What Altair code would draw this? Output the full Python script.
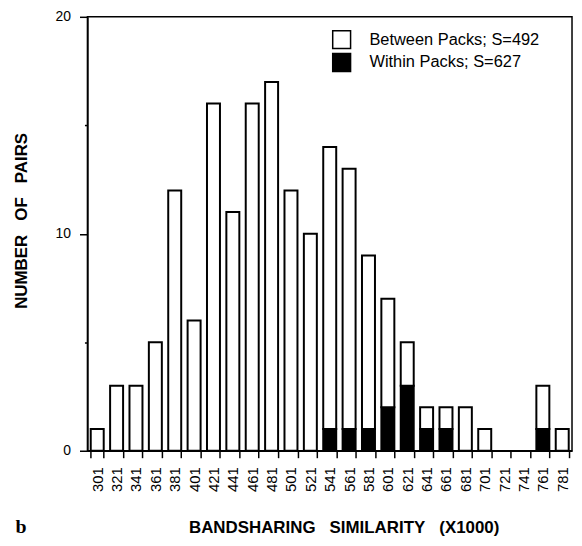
import altair as alt
import pandas as pd

categories = ["301", "321", "341", "361", "381", "401", "421", "441", "461", "481",
              "501", "521", "541", "561", "581", "601", "621", "641", "661", "681",
              "701", "721", "741", "761", "781"]
total_pairs = [1, 3, 3, 5, 12, 6, 16, 11, 16, 17,
               12, 10, 14, 13, 9, 7, 5, 2, 2, 2,
               1, 0, 0, 3, 1]
within_pairs = [0, 0, 0, 0, 0, 0, 0, 0, 0, 0,
                0, 0, 1, 1, 1, 2, 3, 1, 1, 0,
                0, 0, 0, 1, 0]
series_names = ["Between Packs; S=492", "Within Packs; S=627"]
series_colors = ["white", "black"]
y_ticks = [0, 5, 10, 15, 20]

rows = []
for c, t, w in zip(categories, total_pairs, within_pairs):
    if w > 0:
        rows.append({"sim": c, "group": series_names[1], "pairs": w, "ord": 0})
    if t - w > 0:
        rows.append({"sim": c, "group": series_names[0], "pairs": t - w, "ord": 1})
df = pd.DataFrame(rows)

FONT = "Liberation Sans"
SP = "\u00a0\u00a0\u00a0"

bars = alt.Chart(df).mark_bar(stroke="black", strokeWidth=2).encode(
    x=alt.X(
        "sim:N",
        sort=categories,
        scale=alt.Scale(domain=categories, paddingInner=0.33, paddingOuter=0.17),
        axis=alt.Axis(
            title=f"BANDSHARING{SP}SIMILARITY{SP}(X1000)",
            titleFont=FONT, titleFontSize=17, titleFontWeight="bold", titleColor="black",
            titleX=258, titleY=77, titleAlign="center", titleBaseline="middle",
            titleLimit=480,
            labelAngle=270, labelFont=FONT, labelFontSize=15, labelColor="black",
            labelPadding=9, labelAlign="right", labelBaseline="middle",
            tickBand="extent", tickSize=7, tickWidth=1.5, tickColor="black",
            domainColor="black", domainWidth=1.5,
        ),
    ),
    y=alt.Y(
        "pairs:Q",
        stack="zero",
        scale=alt.Scale(domain=[0, 20], nice=False),
        axis=alt.Axis(
            title=f"NUMBER{SP}OF{SP}PAIRS",
            titleFont=FONT, titleFontSize=17, titleFontWeight="bold", titleColor="black",
            titleX=-66, titleY=205, titleAngle=270, titleAlign="center", titleBaseline="middle",
            values=y_ticks,
            labelExpr="datum.value % 10 == 0 ? datum.label : ''",
            labelFont=FONT, labelFontSize=14, labelColor="black", labelPadding=9,
            tickSize=8, tickWidth=1.5, tickColor="black",
            tickDash={"condition": {"test": "datum.value % 10 != 0", "value": [3, 20]},
                      "value": [20, 0]},
            grid=False,
            domainColor="black", domainWidth=1.5,
        ),
    ),
    color=alt.Color(
        "group:N",
        scale=alt.Scale(domain=series_names, range=series_colors),
        legend=alt.Legend(
            title=None, orient="none", legendX=246, legendY=13,
            symbolType="square", symbolSize=324, symbolStrokeColor="black",
            symbolStrokeWidth=1.5,
            labelFont=FONT, labelFontSize=16.5, labelColor="black", labelLimit=300,
            labelOffset=18, rowPadding=-1,
        ),
    ),
    order=alt.Order("ord:Q"),
)

tag = alt.Chart(pd.DataFrame({"t": ["b"]})).mark_text(
    font="Liberation Serif", fontSize=20, fontWeight="bold", color="black",
    align="center", baseline="alphabetic",
).encode(text="t:N", x=alt.value(-67), y=alt.value(520))

chart = alt.layer(bars, tag).properties(
    width=488, height=437,
    autosize=alt.AutoSizeParams(type="none"),
    padding={"left": 80, "top": 7, "right": 2, "bottom": 86},
).configure_view(stroke="black", strokeWidth=1.5)

chart.save("out.html", embed_options={"renderer": "svg", "actions": False})
